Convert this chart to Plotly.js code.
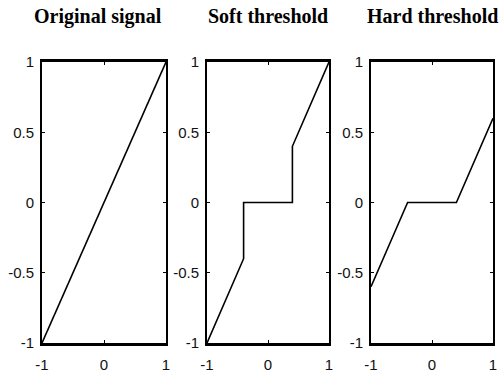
<!DOCTYPE html>
<html>
<head>
<meta charset="utf-8">
<script src="https://cdn.plot.ly/plotly-3.0.1.min.js"></script>
<style>html,body{margin:0;padding:0;background:#fff;}#chart{width:504px;height:373px;}</style>
</head>
<body>
<div id="chart"></div>
<script>
// Threshold functions on [-1, 1] with threshold 0.4
const panelTitles = ["Original signal", "Soft threshold", "Hard threshold"];

const originalX = [-1, 1];
const originalY = [-1, 1];

const jumpX = [-1, -0.4, -0.4, 0.4, 0.4, 1];
const jumpY = [-1, -0.4, 0, 0, 0.4, 1];

const shrinkX = [-1, -0.4, 0.4, 1];
const shrinkY = [-0.6, 0, 0, 0.6];

const xTickVals = [-1, 0, 1];
const xTickText = ["-1", "0", "1"];
const yTickVals = [-1, -0.5, 0, 0.5, 1];
const yTickText = ["-1", "-0.5", "0", "0.5", "1"];

const W = 504, H = 373;
const panelsPx = [[42, 166], [207, 329], [371, 493]];
const topPx = 62, bottomPx = 343;

const lineStyle = {color: "#000", width: 1.6};
const traces = [
  {x: originalX, y: originalY, xaxis: "x", yaxis: "y"},
  {x: jumpX, y: jumpY, xaxis: "x2", yaxis: "y2"},
  {x: shrinkX, y: shrinkY, xaxis: "x3", yaxis: "y3"}
].map(t => Object.assign(t, {type: "scatter", mode: "lines", line: lineStyle, hoverinfo: "skip"}));

const tickFont = {family: "Liberation Sans Narrow, Liberation Sans, Arial, sans-serif", size: 15, color: "#111"};

function xAxis(i) {
  return {
    domain: [panelsPx[i][0] / W, panelsPx[i][1] / W],
    range: [-1, 1], anchor: i === 0 ? "y" : "y" + (i + 1),
    tickvals: xTickVals, ticktext: xTickText,
    ticks: "inside", ticklen: 3, tickwidth: 1, tickcolor: "#000",
    showline: true, linecolor: "#000", linewidth: 3, mirror: "allticks",
    showgrid: false, zeroline: false, tickfont: tickFont, ticklabelstandoff: 6,
    fixedrange: true
  };
}
function yAxis(i) {
  return {
    domain: [1 - bottomPx / H, 1 - topPx / H],
    range: [-1, 1], anchor: i === 0 ? "x" : "x" + (i + 1),
    tickvals: yTickVals, ticktext: yTickText,
    ticks: "inside", ticklen: 3, tickwidth: 1, tickcolor: "#000",
    showline: true, linecolor: "#000", linewidth: 2, mirror: "allticks",
    showgrid: false, zeroline: false, tickfont: tickFont, ticklabelstandoff: 3,
    fixedrange: true
  };
}

const titleCenters = [98, 268, 432];
const annotations = panelTitles.map((t, i) => ({
  text: "<b>" + t + "</b>", showarrow: false,
  xref: "paper", yref: "paper",
  x: titleCenters[i] / W, y: 1 - 16 / H,
  xanchor: "center", yanchor: "middle",
  font: {family: "Liberation Serif, Times New Roman, serif", size: 20, color: "#000"}
}));

const layout = {
  width: W, height: H,
  margin: {l: 0, r: 0, t: 0, b: 0},
  paper_bgcolor: "#fff", plot_bgcolor: "#fff",
  showlegend: false,
  xaxis: xAxis(0), yaxis: yAxis(0),
  xaxis2: xAxis(1), yaxis2: yAxis(1),
  xaxis3: xAxis(2), yaxis3: yAxis(2),
  annotations: annotations
};

Plotly.newPlot("chart", traces, layout, {displayModeBar: false, staticPlot: true});
</script>
</body>
</html>
